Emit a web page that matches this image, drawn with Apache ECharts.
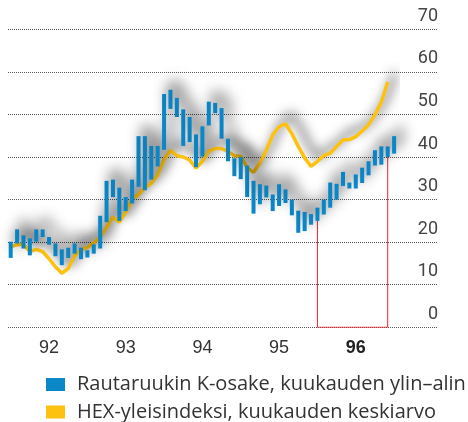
<!DOCTYPE html>
<html lang="fi">
<head>
<meta charset="UTF-8">
<title>Rautaruukki</title>
<script src="https://cdn.jsdelivr.net/npm/echarts@6/dist/echarts.min.js"></script>
<style>
  html, body { margin: 0; padding: 0; background: #fff; }
  #chart { width: 468px; height: 422px; }
</style>
</head>
<body>
<div id="chart"></div>
<script>
// kuukaudet 1/1992 - 1/1997
var years = ['92', '93', '94', '95', '96', '97'];
var months = [];
for (var y = 0; y < years.length; y++) {
    for (var m = 1; m <= 12; m++) {
        if (y === 5 && m > 1) break;
        months.push(years[y] + '/' + m);
    }
}
var yearLabels = ['92', '93', '94', '95', '96'];
var boldYear = '96';

// Rautaruukin K-osake, kuukauden ylin ja alin
var highs = [20.1, 23.0, 21.6, 20.9, 23.0, 23.0, 21.2, 19.7, 18.3, 18.7, 19.7, 18.7,
             18.1, 19.5, 26.2, 34.4, 34.7, 32.8, 30.6, 34.7, 44.9, 44.9, 42.6, 42.6,
             54.8, 55.8, 53.9, 51.2, 49.4, 45.3, 47.2, 53.0, 52.7, 51.5, 44.3, 39.7,
             40.0, 38.0, 34.4, 33.6, 33.3, 31.2, 33.6, 32.4, 30.0, 27.4, 27.1, 26.6,
             28.1, 30.0, 34.0, 33.7, 36.5, 34.0, 35.9, 37.5, 39.0, 41.6, 42.5, 42.5,
             44.9];
var lows  = [16.3, 19.7, 18.5, 16.9, 20.1, 21.2, 19.4, 16.7, 14.6, 16.3, 17.3, 16.0,
             16.4, 17.3, 18.5, 24.7, 30.6, 25.0, 27.3, 29.1, 33.0, 32.2, 34.7, 37.8,
             41.7, 51.3, 49.4, 42.6, 43.5, 37.6, 40.1, 47.4, 50.3, 44.3, 39.0, 35.5,
             34.8, 30.6, 26.7, 28.9, 30.5, 27.3, 28.5, 29.2, 26.3, 22.2, 22.6, 24.1,
             25.0, 26.5, 28.1, 30.0, 33.2, 32.6, 32.6, 33.9, 35.7, 38.0, 38.2, 40.0,
             40.8];

// HEX-yleisindeksi, kuukauden keskiarvo (kuvan asteikolla)
var hex = [18.9, 19.4, 19.5, 17.8, 18.3, 17.8, 16.1, 14.2, 12.7, 13.8, 16.8, 18.2,
           18.8, 19.8, 21.2, 23.5, 25.9, 24.7, 27.0, 30.2, 31.2, 32.8, 33.8, 35.8,
           39.4, 41.6, 40.3, 40.0, 39.3, 37.4, 39.0, 41.4, 42.0, 42.0, 41.3, 40.3,
           40.2, 37.5, 36.4, 38.6, 41.6, 45.2, 47.1, 47.8, 45.5, 42.5, 39.8, 37.8,
           39.0, 40.3, 40.9, 42.5, 44.0, 44.1, 44.8, 46.1, 47.6, 49.9, 52.9, 57.6,
           null];

var nameBars = 'Rautaruukin K-osake, kuukauden ylin–alin';
var nameHex = 'HEX-yleisindeksi, kuukauden keskiarvo';

var ranges = highs.map(function (h, i) { return +(h - lows[i]).toFixed(1); });

// vuoden 1996 kehys: tammikuusta joulukuuhun
var first96 = months.indexOf('96/1');
var last96 = months.indexOf('96/12');
var bracket = [[first96, lows[first96]], [first96, 0], [last96, 0], [last96, lows[last96]]];

var dom = document.getElementById('chart');
var myChart = echarts.init(dom, null, { renderer: 'canvas' });

var shadowBars = {
    shadowColor: 'rgba(0, 0, 0, 0.75)',
    shadowBlur: 14,
    shadowOffsetX: 6,
    shadowOffsetY: -10
};
var shadowLine = {
    shadowColor: 'rgba(0, 0, 0, 0.85)',
    shadowBlur: 12,
    shadowOffsetX: 7,
    shadowOffsetY: -9
};

var legendText = {
    fontFamily: 'Open Sans',
    fontSize: 20,
    lineHeight: 20,
    color: '#333',
    padding: [0, 0, 0, 7]
};

var option = {
    animation: false,
    backgroundColor: '#fff',
    grid: [
        { left: 8, right: 30, top: 29.3, bottom: 94.7 },
        { left: 7.5, right: 70.7, top: 29.3, bottom: 94.7 }
    ],
    xAxis: [
        { gridIndex: 0, type: 'category', data: months, show: false },
        {
            gridIndex: 1,
            type: 'category',
            data: months,
            axisLine: { show: false },
            axisTick: { show: false },
            axisLabel: {
                interval: function (idx) { return idx % 12 === 6; },
                margin: 12,
                formatter: function (val) {
                    var yr = val.split('/')[0];
                    if (yearLabels.indexOf(yr) < 0) return '';
                    return yr === boldYear ? '{b|' + yr + '}' : yr;
                },
                fontFamily: 'Liberation Sans',
                fontSize: 18,
                color: '#333',
                rich: {
                    b: { fontFamily: 'Liberation Sans', fontSize: 18, fontWeight: 'bold', color: '#222' }
                }
            }
        }
    ],
    yAxis: [
        {
            gridIndex: 0,
            type: 'value',
            position: 'right',
            min: 0,
            max: 70,
            interval: 10,
            axisLine: { show: false },
            axisTick: { show: false },
            axisLabel: {
                inside: true,
                margin: 0,
                verticalAlign: 'bottom',
                padding: [0, 0, 4, 0],
                fontFamily: 'Roboto',
                fontSize: 18,
                color: '#444'
            },
            splitLine: { lineStyle: { type: [1, 1], color: '#555', width: 1 } }
        },
        { gridIndex: 1, type: 'value', min: 0, max: 70, show: false }
    ],
    legend: [
        {
            left: 41, top: 369.5,
            itemWidth: 19, itemHeight: 13,
            icon: 'rect',
            data: [nameBars],
            textStyle: legendText
        },
        {
            left: 41, top: 397,
            itemWidth: 19, itemHeight: 13,
            icon: 'rect',
            data: [nameHex],
            textStyle: legendText
        }
    ],
    series: [
        {
            name: 'base',
            type: 'bar',
            xAxisIndex: 1,
            yAxisIndex: 1,
            stack: 'range',
            barWidth: 4,
            silent: true,
            itemStyle: { color: 'rgba(0,0,0,0)' },
            data: lows
        },
        {
            name: nameBars,
            type: 'bar',
            xAxisIndex: 1,
            yAxisIndex: 1,
            stack: 'range',
            barWidth: 4,
            z: 4,
            itemStyle: Object.assign({ color: '#0a87c9' }, shadowBars),
            data: ranges
        },
        {
            name: nameHex,
            type: 'line',
            xAxisIndex: 1,
            yAxisIndex: 1,
            symbol: 'none',
            z: 3,
            itemStyle: { color: '#fdc20f' },
            lineStyle: Object.assign({ color: '#fdc20f', width: 3.5 }, shadowLine),
            data: hex
        },
        {
            name: 'kehys',
            type: 'line',
            xAxisIndex: 1,
            yAxisIndex: 1,
            symbol: 'none',
            silent: true,
            z: 2,
            lineStyle: { color: '#e8262b', width: 1 },
            data: bracket
        }
    ]
};

myChart.setOption(option);
window.addEventListener('resize', myChart.resize);
</script>
</body>
</html>
